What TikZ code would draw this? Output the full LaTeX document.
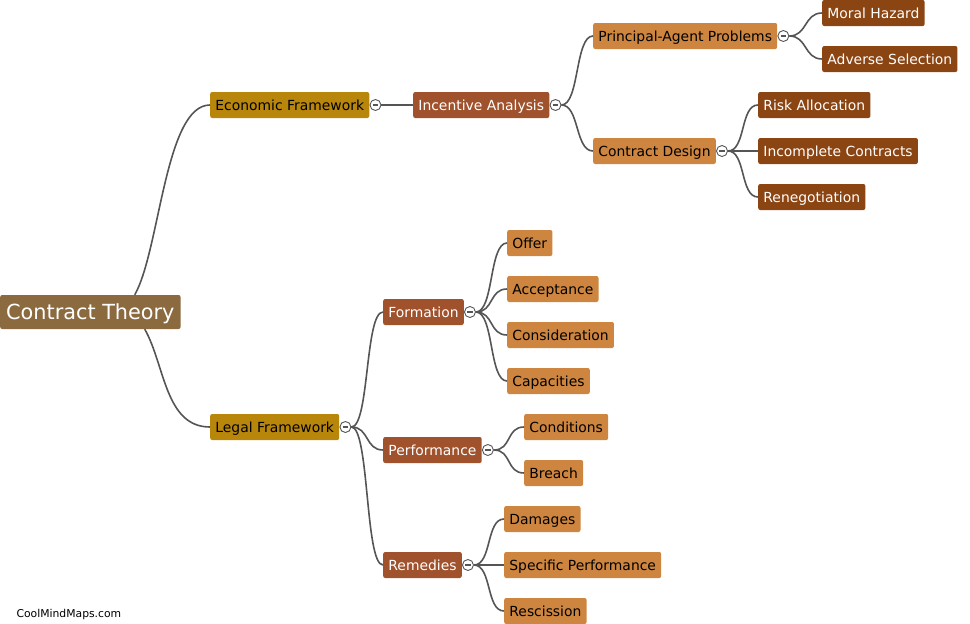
\documentclass[tikz,border=0pt]{standalone}
\usepackage{fontspec}
\setmainfont{DejaVu Sans}
\usetikzlibrary{positioning,calc}
\definecolor{rootc}{HTML}{8C6A3F}
\definecolor{lvone}{HTML}{B8860B}
\definecolor{lvtwo}{HTML}{A0522D}
\definecolor{lvthree}{HTML}{CD853F}
\definecolor{lvfour}{HTML}{8B4513}
\definecolor{linkgray}{HTML}{555555}

\begin{document}
\begin{tikzpicture}[
  x=1pt,y=-1pt,
  font=\fontsize{13.9}{16}\selectfont,
  box/.style={rounded corners=2pt,anchor=west,minimum height=26,inner xsep=5.2,inner ysep=0,text height=13,text depth=2},
  topic/.style={box,fill=rootc,text=white,font=\fontsize{20.8}{24}\selectfont,minimum height=34,inner xsep=6,text height=18,text depth=3},
  one/.style={box,fill=lvone,text=black},
  two/.style={box,fill=lvtwo,text=white},
  three/.style={box,fill=lvthree,text=black},
  four/.style={box,fill=lvfour,text=white},
  fold/.style={circle,draw=linkgray,fill=white,line width=0.9,minimum size=11,inner sep=0,
    path picture={\draw[line width=1.2] ([xshift=-2.8]path picture bounding box.center) -- ([xshift=2.8]path picture bounding box.center);}},
  link/.style={draw=linkgray,line width=1.6},
]
\useasboundingbox (0,0) rectangle (970,624);

% ============ root ============
\node[topic] (root) at (0,312) {Contract Theory};

% ============ economic branch ============
\node[one] (eco) at (210,105) {Economic Framework};
\node[two] (inc) at (413,105) {Incentive Analysis};
\node[three] (pap) at (593,36) {Principal-Agent Problems};
\node[four] (moral) at (822,13) {Moral Hazard};
\node[four] (adv) at (822,59) {Adverse Selection};
\node[three] (cd) at (593,151) {Contract Design};
\node[four] (risk) at (758,105) {Risk Allocation};
\node[four] (incc) at (758,151) {Incomplete Contracts};
\node[four] (reneg) at (758,197) {Renegotiation};

% ============ legal branch ============
\node[one] (legal) at (210,427) {Legal Framework};
\node[two] (form) at (383,312) {Formation};
\node[three] (offer) at (507,243) {Offer};
\node[three] (acc) at (507,289) {Acceptance};
\node[three] (cons) at (507,335) {Consideration};
\node[three] (cap) at (507,381) {Capacities};
\node[two] (perf) at (383,450) {Performance};
\node[three] (cond) at (524,427) {Conditions};
\node[three] (breach) at (524,473) {Breach};
\node[two] (rem) at (383,565) {Remedies};
\node[three] (dam) at (504,519) {Damages};
\node[three] (spec) at (504,565) {Specific Performance};
\node[three] (resc) at (504,611) {Rescission};

% fold markers
\foreach \n in {eco,inc,pap,cd,legal,form,perf,rem}
  \node[fold] (f-\n) at ([xshift=6]\n.east) {};

% ============ connectors ============
\draw[link] ([xshift=-46]root.north east) .. controls (160,250) and (165,105) .. (eco.west);
\draw[link] ([xshift=-36]root.south east) .. controls (165,365) and (165,427) .. (legal.west);
\draw[link] (f-eco.east) -- (inc.west);
\foreach \p/\c in {inc/pap,inc/cd,pap/moral,pap/adv,cd/risk,cd/incc,cd/reneg,
                   legal/form,legal/perf,legal/rem,form/offer,form/acc,form/cons,form/cap,
                   perf/cond,perf/breach,rem/dam,rem/spec,rem/resc}
  \draw[link] (f-\p.east) .. controls +(18,0) and +(-18,0) .. (\c.west);

\node[anchor=west,font=\fontsize{10.8}{12}\selectfont] (mark) at (13,615) {CoolMindMaps.com};

\end{tikzpicture}
\end{document}
